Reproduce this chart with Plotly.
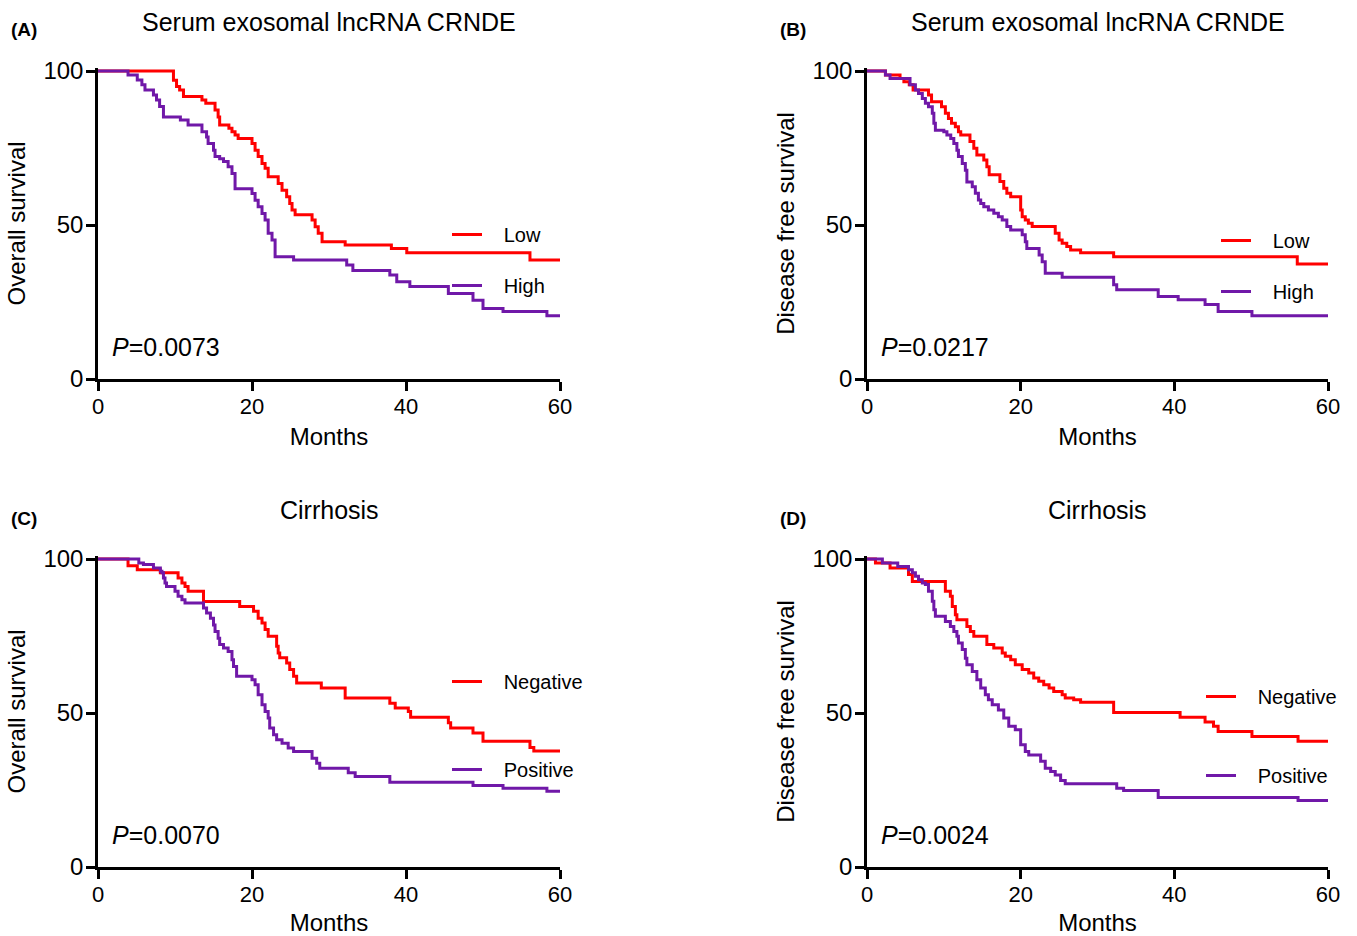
import plotly.graph_objects as go

# ---------------- data (months, % surviving) ----------------
A_low_months = [0, 9.8, 10.2, 10.6, 11.1, 13.5, 14.0, 15.2, 15.6, 15.8, 17.0, 17.4, 17.8, 18.2, 20.0, 20.4, 20.8, 21.3, 21.7, 22.1, 23.4, 23.9, 24.5, 24.9, 25.2, 25.6, 27.8, 28.2, 28.6, 29.1, 32.1, 38.1, 40.1, 56.1, 60]
A_low_pct = [100, 97.0, 95.0, 93.8, 91.7, 90.6, 89.5, 87.3, 85.1, 82.5, 81.4, 80.3, 79.2, 78.1, 76.5, 74.3, 72.2, 70.0, 68.4, 65.7, 63.5, 61.3, 59.2, 57.0, 54.9, 53.3, 51.6, 49.4, 47.3, 44.6, 43.5, 42.4, 41.0, 38.6, 38.6]
A_high_months = [0, 3.9, 5.1, 5.7, 6.1, 7.2, 7.6, 8.0, 8.5, 10.7, 11.7, 13.5, 14.1, 14.3, 15.0, 15.2, 15.8, 16.3, 16.9, 17.4, 17.8, 20.0, 20.4, 20.8, 21.3, 21.7, 22.1, 22.6, 23.0, 25.4, 32.3, 33.1, 37.9, 38.8, 40.5, 45.5, 48.7, 50.0, 52.6, 58.3, 60]
A_high_pct = [100, 98.7, 97.1, 95.5, 93.8, 92.2, 90.6, 88.5, 85.1, 84.1, 82.5, 80.3, 78.6, 76.5, 74.3, 72.2, 71.5, 70.6, 68.9, 66.7, 61.8, 60.2, 58.0, 55.9, 53.7, 51.6, 47.3, 45.1, 39.7, 38.6, 37.0, 35.2, 33.8, 31.6, 30.0, 27.8, 25.6, 22.9, 21.9, 20.5, 20.5]

B_low_months = [0, 2.4, 4.3, 4.8, 5.5, 6.0, 8.0, 8.4, 9.7, 10.2, 10.6, 11.0, 11.5, 11.9, 12.2, 13.4, 13.9, 14.3, 15.2, 15.6, 15.9, 17.3, 17.8, 18.2, 18.7, 20.0, 20.2, 20.6, 21.0, 21.5, 24.5, 25.0, 25.4, 26.0, 26.5, 27.8, 32.1, 56.0, 60]
B_low_pct = [100, 98.7, 97.6, 96.5, 95.5, 93.8, 92.2, 90.0, 88.4, 86.3, 84.6, 83.0, 81.9, 80.3, 79.2, 77.1, 74.9, 72.7, 71.1, 68.9, 66.3, 64.1, 61.9, 60.3, 59.2, 54.9, 52.7, 51.6, 50.6, 49.5, 47.3, 45.1, 44.1, 43.0, 41.9, 41.0, 39.7, 37.3, 37.3]
B_high_months = [0, 2.4, 3.0, 5.6, 6.3, 6.7, 7.2, 7.6, 8.0, 8.5, 8.7, 8.9, 10.0, 10.4, 10.9, 11.3, 11.7, 11.9, 12.4, 12.8, 13.0, 13.7, 14.1, 14.5, 14.8, 15.2, 15.8, 16.5, 17.1, 17.6, 18.2, 18.7, 20.2, 20.6, 20.8, 22.4, 22.8, 23.2, 25.4, 32.1, 32.5, 37.9, 40.5, 44.0, 45.7, 50.1, 60]
B_high_pct = [100, 98.7, 97.6, 95.5, 93.8, 92.7, 91.1, 89.5, 88.4, 86.3, 83.0, 80.8, 80.3, 79.2, 78.1, 76.5, 74.3, 72.2, 70.0, 67.8, 64.0, 62.4, 60.3, 58.1, 57.0, 55.9, 54.9, 53.8, 52.7, 51.6, 49.5, 48.4, 46.8, 44.6, 42.4, 40.3, 38.1, 34.3, 33.0, 30.6, 29.0, 26.8, 25.7, 24.2, 21.9, 20.5, 20.5]

C_neg_months = [0, 3.9, 5.1, 8.1, 10.4, 10.9, 11.3, 11.7, 13.7, 18.4, 20.2, 20.8, 21.3, 21.7, 22.1, 23.2, 23.4, 23.6, 24.5, 24.9, 25.4, 25.8, 29.0, 32.1, 37.9, 38.6, 40.3, 40.6, 45.5, 45.8, 48.7, 50.0, 56.1, 56.6, 60]
C_neg_pct = [100, 97.8, 96.5, 95.5, 93.8, 92.2, 91.1, 89.5, 86.2, 84.6, 83.0, 80.8, 79.2, 77.1, 74.9, 71.7, 69.5, 67.9, 66.2, 64.1, 61.9, 59.7, 58.1, 54.9, 53.2, 51.6, 50.5, 48.6, 46.8, 45.1, 43.5, 40.8, 38.8, 37.7, 37.7]
C_pos_months = [0, 5.3, 5.9, 7.2, 8.1, 8.3, 8.5, 8.7, 8.9, 10.0, 10.4, 10.9, 11.3, 13.7, 14.1, 14.6, 15.0, 15.2, 15.6, 15.8, 16.3, 16.9, 17.4, 17.6, 18.0, 20.0, 20.4, 20.8, 21.3, 21.7, 22.1, 22.3, 22.8, 23.2, 23.9, 24.7, 25.4, 27.8, 28.4, 28.8, 32.5, 33.4, 37.9, 48.7, 52.6, 58.3, 60]
C_pos_pct = [100, 98.7, 98.2, 97.1, 96.0, 95.5, 93.8, 92.2, 91.1, 89.5, 87.9, 86.8, 85.7, 84.1, 82.5, 80.8, 78.6, 76.5, 74.3, 72.2, 71.1, 70.0, 67.3, 65.1, 61.9, 60.8, 59.2, 55.9, 52.7, 50.5, 48.4, 45.1, 42.9, 41.3, 40.2, 38.6, 37.5, 35.3, 33.7, 32.1, 30.6, 29.4, 27.5, 26.5, 25.6, 24.6, 24.6]

D_neg_months = [0, 1.1, 3.0, 5.4, 5.9, 10.2, 10.85, 11.1, 11.5, 11.7, 13.0, 13.45, 13.9, 15.6, 16.5, 17.6, 18.0, 18.7, 19.3, 20.2, 21.05, 21.7, 22.35, 23.0, 23.7, 24.3, 25.4, 25.8, 26.9, 27.8, 32.1, 40.75, 44.0, 45.1, 45.7, 50.1, 56.1, 60]
D_neg_pct = [100, 98.7, 97.1, 95.0, 92.7, 89.5, 87.9, 84.6, 81.9, 80.3, 78.1, 76.5, 74.9, 72.2, 71.1, 69.5, 68.4, 67.3, 65.7, 64.1, 63.0, 61.4, 60.3, 59.2, 58.1, 57.0, 55.9, 54.9, 54.3, 53.5, 50.2, 48.6, 47.1, 45.7, 44.0, 42.4, 40.8, 40.8]
D_pos_months = [0, 2.0, 4.0, 5.4, 5.9, 6.3, 6.7, 7.2, 7.6, 8.0, 8.5, 8.7, 8.9, 10.2, 10.85, 11.3, 11.7, 11.9, 12.4, 12.8, 13.0, 13.7, 14.3, 14.8, 15.4, 15.8, 16.3, 17.1, 17.8, 18.45, 19.3, 20.0, 20.6, 21.05, 22.6, 23.2, 23.9, 24.5, 25.2, 25.8, 32.5, 33.4, 37.9, 56.1, 60]
D_pos_pct = [100, 98.7, 97.6, 96.5, 95.5, 94.4, 93.3, 92.2, 91.7, 89.5, 86.3, 83.5, 81.4, 79.7, 78.1, 76.5, 74.9, 72.7, 70.6, 67.8, 65.7, 63.5, 60.8, 58.1, 55.9, 54.3, 52.7, 51.0, 48.4, 45.7, 44.6, 39.7, 37.5, 36.4, 34.3, 32.1, 31.0, 29.9, 28.1, 27.0, 25.6, 24.8, 22.6, 21.6, 21.6]

panel_letters = ["(A)", "(B)", "(C)", "(D)"]
panel_titles = ["Serum exosomal lncRNA CRNDE", "Serum exosomal lncRNA CRNDE", "Cirrhosis", "Cirrhosis"]
y_titles = ["Overall survival", "Disease free survival", "Overall survival", "Disease free survival"]
p_values = ["0.0073", "0.0217", "0.0070", "0.0024"]
group_names = [("Low", "High"), ("Low", "High"), ("Negative", "Positive"), ("Negative", "Positive")]
x_ticks = [0, 20, 40, 60]
y_ticks = [0, 50, 100]

RED = "#FF0000"
PURPLE = "#7018A8"
FONT = "Arial, Liberation Sans, Helvetica, sans-serif"
W, H = 1357, 936
NB = "\u00a0\u00a0\u00a0"

series = [
    (A_low_months, A_low_pct, A_high_months, A_high_pct),
    (B_low_months, B_low_pct, B_high_months, B_high_pct),
    (C_neg_months, C_neg_pct, C_pos_months, C_pos_pct),
    (D_neg_months, D_neg_pct, D_pos_months, D_pos_pct),
]

# pixel layout of each panel: (x_left, x_right, y_top(=100), y_bottom(=0))
panels_px = [(98, 560, 71, 379), (867, 1328, 71, 379), (98, 560, 559, 867), (867, 1328, 559, 867)]
YMAX = 101.0

# legend placement (pixel left, pixel top, gap)
legend_px = [(447, 215, 22), (1216, 221, 22), (447, 662, 59), (1201, 677, 50)]

fig = go.Figure()
layout = dict(
    width=W, height=H, margin=dict(l=0, r=0, t=0, b=0, autoexpand=False),
    paper_bgcolor="white", plot_bgcolor="white",
    font=dict(family=FONT, color="black", size=22),
    annotations=[],
)

for i, ((m1, p1, m2, p2), (xl, xr, yt, yb)) in enumerate(zip(series, panels_px)):
    k = "" if i == 0 else str(i + 1)
    lg = "legend" if i == 0 else "legend" + str(i + 1)
    n1, n2 = group_names[i]
    fig.add_trace(go.Scatter(x=m1, y=p1, mode="lines", line=dict(color=RED, width=3, shape="hv"),
                             name=NB + n1, xaxis="x" + k, yaxis="y" + k, legend=lg, legendgroup=f"g{i}a"))
    fig.add_trace(go.Scatter(x=m2, y=p2, mode="lines", line=dict(color=PURPLE, width=3, shape="hv"),
                             name=NB + n2, xaxis="x" + k, yaxis="y" + k, legend=lg, legendgroup=f"g{i}b"))
    top_px = yb - (yb - yt) * YMAX / 100.0
    ax = dict(linecolor="black", linewidth=2.5, ticks="outside", ticklen=9, tickwidth=2.5,
              tickcolor="black", showgrid=False, zeroline=False,
              mirror=False, showline=True, automargin=False)
    layout["xaxis" + k] = dict(ax, domain=[xl / W, xr / W], range=[0, 60], tickvals=x_ticks,
                               tickfont=dict(size=22), ticklabelstandoff=-3,
                               anchor="y" + k, title=dict(text="Months", font=dict(size=24), standoff=11))
    layout["yaxis" + k] = dict(ax, domain=[1 - yb / H, 1 - top_px / H], range=[0, YMAX], tickvals=y_ticks,
                               tickfont=dict(size=24), ticklabelstandoff=-2,
                               anchor="x" + k, title=dict(text=y_titles[i], font=dict(size=24), standoff=11))
    lx, ly, gap = legend_px[i]
    layout[lg] = dict(x=lx / W, y=1 - ly / H, xanchor="left", yanchor="top", bgcolor="rgba(0,0,0,0)",
                      font=dict(size=20), tracegroupgap=gap, itemwidth=30, borderwidth=0)
    cx = (xl + xr) / 2
    layout["annotations"].append(dict(text=panel_titles[i], x=cx / W, y=1 - (yt - 49) / H, xref="paper", yref="paper",
                                      showarrow=False, font=dict(size=25), xanchor="center", yanchor="middle"))
    layout["annotations"].append(dict(text="<b>" + panel_letters[i] + "</b>", x=(xl - 89) / W, y=1 - (yt - 41) / H,
                                      xref="paper", yref="paper", showarrow=False, font=dict(size=19),
                                      xanchor="left", yanchor="middle"))
    layout["annotations"].append(dict(text="<i>P</i>=" + p_values[i], x=(xl + 12) / W, y=1 - (yt + 276) / H,
                                      xref="paper", yref="paper", showarrow=False, font=dict(size=25),
                                      xanchor="left", yanchor="middle"))

fig.update_layout(**layout)
fig.update_layout(showlegend=True)
fig.write_html("out.html", config={"displayModeBar": False},
               post_script="document.body.style.margin='0px';")
